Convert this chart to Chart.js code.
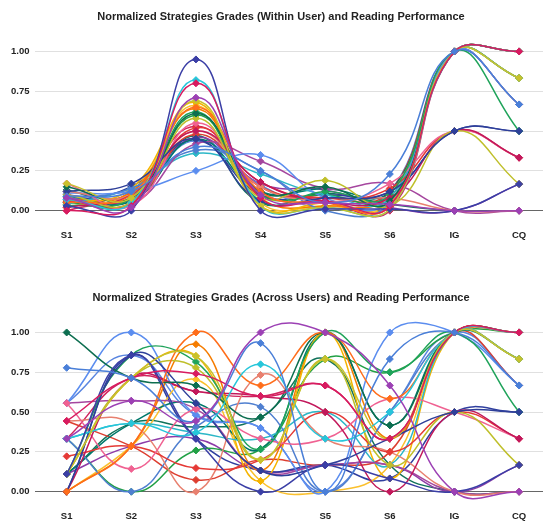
<!DOCTYPE html>
<html>
<head>
<meta charset="utf-8">
<script src="https://cdn.jsdelivr.net/npm/chart.js@4.4.0/dist/chart.umd.min.js"></script>
<style>
  html, body { margin: 0; padding: 0; background: #fff; }
  body { width: 548px; height: 523px; position: relative; overflow: hidden; }
  .box { position: absolute; left: 0; width: 548px; height: 242px; }
  #boxA { top: 0; }
  #boxB { top: 281px; }
</style>
</head>
<body>
<div class="box" id="boxA"><canvas id="chartA"></canvas></div>
<div class="box" id="boxB"><canvas id="chartB"></canvas></div>
<script>
const categories = ['S1', 'S2', 'S3', 'S4', 'S5', 'S6', 'IG', 'CQ'];
const yTicks = [0, 0.25, 0.5, 0.75, 1];

const colors = [
    '#9c40b4', '#4a7fd8', '#d81b60', '#3b3fa6', '#c9c22c', '#26c6da',
    '#ff6d1a', '#0d6e50', '#2e3f99', '#bfbf2a', '#c2185b', '#1fa35a',
    '#f06292', '#e53935', '#e8806f', '#5b8def', '#a5469e', '#4f7fd0',
    '#2cb7c7', '#f5b400', '#f57c00', '#00796b', '#fbc02d', '#21a045',
    '#dd3e30', '#d0245e', '#5a86e0', '#303f9f', '#8e3ba8', '#11725a'
];

// reading performance, one value per user
const readingIG = [0, 1, 1, 0, 1, 1, 1, 1, 0.5, 0.5, 0.5, 1, 0.5, 0.5, 0, 1, 0, 1, 1, 1, 1, 1, 1, 1, 1, 1, 1, 0.5, 0, 0];
const readingCQ = [0, 0.667, 1, 0.167, 0.833, 1, 1, 1, 0.5, 0.167, 0.333, 0.5, 0.333, 0.333, 0, 0.667, 0,
    1, 0.833, 0.833, 1, 0.833, 0.833, 1, 0.667, 1, 0.667, 0.5, 0.167, 0];

// S1..S6 grades normalized within each user
const withinUser = [
    [0.08, 0.02, 0.71, 0.10, 0.05, 0.04],
    [0.09, 0.12, 0.40, 0.25, 0.05, 0.23],
    [0.00, 0.03, 0.80, 0.08, 0.06, 0.03],
    [0.03, 0.00, 0.95, 0.00, 0.01, 0.01],
    [0.17, 0.08, 0.69, 0.03, 0.02, 0.01],
    [0.07, 0.05, 0.82, 0.03, 0.02, 0.01],
    [0.05, 0.10, 0.65, 0.12, 0.05, 0.03],
    [0.15, 0.08, 0.61, 0.12, 0.15, 0.06],
    [0.12, 0.17, 0.45, 0.06, 0.08, 0.12],
    [0.10, 0.05, 0.58, 0.08, 0.19, 0.03],
    [0.02, 0.10, 0.50, 0.18, 0.06, 0.08],
    [0.03, 0.08, 0.62, 0.06, 0.12, 0.10],
    [0.17, 0.03, 0.55, 0.12, 0.05, 0.17],
    [0.06, 0.05, 0.52, 0.18, 0.08, 0.14],
    [0.12, 0.10, 0.50, 0.15, 0.06, 0.08],
    [0.11, 0.12, 0.25, 0.35, 0.08, 0.06],
    [0.08, 0.04, 0.42, 0.31, 0.14, 0.17],
    [0.07, 0.14, 0.38, 0.25, 0.00, 0.05],
    [0.04, 0.14, 0.36, 0.23, 0.10, 0.08],
    [0.04, 0.14, 0.68, 0.03, 0.05, 0.04],
    [0.06, 0.12, 0.64, 0.08, 0.03, 0.10],
    [0.09, 0.06, 0.45, 0.12, 0.14, 0.12],
    [0.02, 0.12, 0.66, 0.05, 0.03, 0.06],
    [0.05, 0.05, 0.60, 0.10, 0.10, 0.08],
    [0.08, 0.08, 0.48, 0.15, 0.08, 0.12],
    [0.00, 0.12, 0.53, 0.15, 0.06, 0.00],
    [0.12, 0.10, 0.44, 0.16, 0.02, 0.12],
    [0.05, 0.15, 0.44, 0.10, 0.10, 0.12],
    [0.10, 0.07, 0.46, 0.17, 0.13, 0.02],
    [0.13, 0.06, 0.47, 0.05, 0.11, 0.04]
];

// S1..S6 grades normalized across users
const acrossUsers = [
    [0.333, 0.571, 0.444, 1.000, 1.000, 0.667],
    [0.778, 0.714, 0.444, 0.933, 0.000, 0.833],
    [0.444, 0.714, 0.741, 0.600, 0.667, 0.333],
    [0.111, 0.857, 0.333, 0.000, 0.167, 0.083],
    [0.111, 0.714, 0.852, 0.200, 0.833, 0.333],
    [0.333, 0.429, 0.370, 0.800, 0.333, 0.500],
    [0.000, 0.286, 1.000, 0.667, 1.000, 0.583],
    [1.000, 0.714, 0.667, 0.467, 1.000, 0.417],
    [0.000, 0.857, 0.556, 0.133, 0.167, 0.333],
    [0.111, 0.714, 0.778, 0.200, 0.833, 0.167],
    [0.000, 0.714, 0.630, 0.600, 0.500, 0.000],
    [0.111, 0.857, 0.815, 0.267, 1.000, 0.750],
    [0.556, 0.143, 0.519, 0.333, 0.333, 0.583],
    [0.222, 0.286, 0.148, 0.200, 0.500, 0.250],
    [0.444, 0.429, 0.000, 0.733, 0.333, 0.250],
    [0.556, 1.000, 0.481, 0.400, 0.000, 1.000],
    [0.556, 0.571, 0.519, 0.133, 0.167, 0.167],
    [0.333, 0.000, 0.407, 0.533, 0.000, 0.500],
    [0.333, 0.429, 0.370, 0.333, 0.500, 0.167],
    [0.111, 0.714, 0.852, 0.067, 1.000, 0.083],
    [0.000, 0.286, 0.926, 0.133, 1.000, 0.333],
    [0.111, 0.429, 0.556, 0.267, 1.000, 0.417],
    [0.000, 0.286, 0.704, 0.067, 0.000, 0.167],
    [0.333, 0.000, 0.259, 0.267, 0.833, 0.750],
    [0.444, 0.286, 0.074, 0.200, 0.167, 0.250],
    [0.333, 0.714, 0.630, 0.600, 0.667, 0.333],
    [0.556, 0.857, 0.481, 0.400, 0.000, 0.500],
    [0.000, 0.857, 0.333, 0.133, 0.167, 0.083],
    [0.111, 0.286, 0.333, 0.133, 0.167, 0.167],
    [0.111, 0.429, 0.407, 0.467, 0.833, 0.167]
];

const fontFamily = "'Liberation Sans', Arial, sans-serif";

function makeChart(id, title, rows) {
    var ctx = document.getElementById(id).getContext('2d');
    var datasets = rows.map(function (row, i) {
        var values = row.concat([readingIG[i], readingCQ[i]]);
        return {
            data: values.map(function (v, k) { return { x: k, y: v }; }),
            borderColor: colors[i],
            backgroundColor: colors[i],
            borderWidth: 1.5,
            tension: 0.45,
            pointStyle: 'rectRot',
            pointRadius: 3.5,
            pointBorderWidth: 1,
            fill: false,
            clip: false
        };
    });
    return new Chart(ctx, {
        type: 'line',
        data: { datasets: datasets },
        options: {
            responsive: true,
            maintainAspectRatio: false,
            animation: false,
            // negative right padding only moves the title centre right
            layout: { padding: { left: 0, right: -14, top: 0, bottom: 0 } },
            plugins: {
                legend: { display: false },
                tooltip: { enabled: false },
                title: {
                    display: true,
                    text: title,
                    color: '#222',
                    font: { family: fontFamily, size: 11, weight: 'bold' },
                    padding: { top: 10, bottom: 12.5 }
                }
            },
            scales: {
                x: {
                    type: 'linear',
                    min: -0.49,
                    max: 7.37,
                    grid: { display: false, drawTicks: false },
                    border: { display: false },
                    afterBuildTicks: function (axis) {
                        axis.ticks = categories.map(function (c, k) { return { value: k }; });
                    },
                    afterFit: function (axis) {
                        axis.height = 15.4;
                        axis.paddingLeft = 0;
                        axis.paddingRight = 0;
                    },
                    ticks: {
                        callback: function (v) { return categories[v]; },
                        padding: 3,
                        maxRotation: 0,
                        autoSkip: false,
                        color: '#222',
                        font: { family: fontFamily, size: 9.5, weight: 'bold' }
                    }
                },
                y: {
                    min: -0.1,
                    max: 1.099,
                    border: { display: false },
                    afterBuildTicks: function (axis) {
                        axis.ticks = yTicks.map(function (v) { return { value: v }; });
                    },
                    afterFit: function (axis) { axis.width = 35; },
                    grid: {
                        drawTicks: false,
                        lineWidth: 1,
                        color: function (c) {
                            return c.tick && c.tick.value === 0 ? '#666' : '#e0e0e0';
                        }
                    },
                    ticks: {
                        callback: function (v) { return v.toFixed(2); },
                        padding: 5.5,
                        color: '#222',
                        font: { family: fontFamily, size: 9.5, weight: 'bold' }
                    }
                }
            }
        }
    });
}

makeChart('chartA', 'Normalized Strategies Grades (Within User) and Reading Performance', withinUser);
makeChart('chartB', 'Normalized Strategies Grades (Across Users) and Reading Performance', acrossUsers);
</script>
</body>
</html>
